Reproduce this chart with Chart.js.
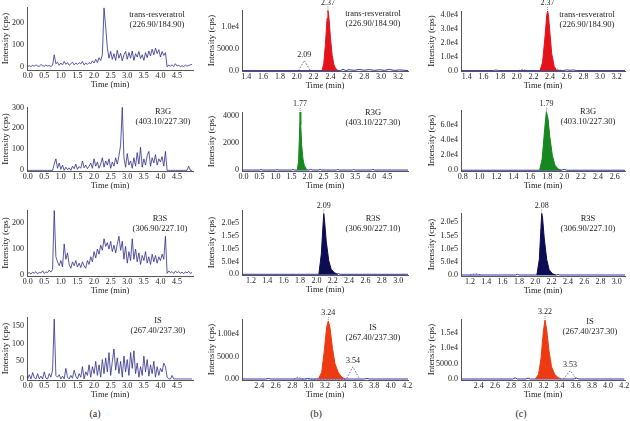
<!DOCTYPE html>
<html>
<head>
<meta charset="utf-8">
<script src="https://cdn.jsdelivr.net/npm/chart.js@4/dist/chart.umd.min.js"></script>
<style>
  body { margin: 0; width: 630px; height: 421px; overflow: hidden; background: #fff; position: relative;
         font-family: "Liberation Serif", "Times New Roman", serif; color: #222; }
  canvas { position: absolute; }
  .cmp { position: absolute; font-size: 8.5px; line-height: 10px; text-align: center; transform: translateX(-50%); white-space: nowrap; }
  .tag { position: absolute; font-size: 10px; transform: translate(-50%, -50%); }
</style>
</head>
<body>
<script>
// ---- data ----
// column (a): blank samples, time in min
const timeA = [0.00,0.05,0.10,0.15,0.20,0.25,0.30,0.35,0.40,0.45,0.50,0.55,0.60,0.65,0.70,0.75,0.80,0.85,0.90,0.95,
  1.00,1.05,1.10,1.15,1.20,1.25,1.30,1.35,1.40,1.45,1.50,1.55,1.60,1.65,1.70,1.75,1.80,1.85,1.90,1.95,
  2.00,2.05,2.10,2.15,2.20,2.25,2.30,2.35,2.40,2.45,2.50,2.55,2.60,2.65,2.70,2.75,2.80,2.85,2.90,2.95,
  3.00,3.05,3.10,3.15,3.20,3.25,3.30,3.35,3.40,3.45,3.50,3.55,3.60,3.65,3.70,3.75,3.80,3.85,3.90,3.95,
  4.00,4.05,4.10,4.15,4.20,4.25,4.30,4.35,4.40,4.45,4.50,4.55,4.60,4.65,4.70,4.75,4.80,4.85,4.90,4.95];

const blankTrans = [3,6,2,8,4,10,5,3,12,6,4,9,5,7,3,8,55,15,22,8,
  18,10,25,12,20,8,15,22,10,18,12,20,14,25,10,18,12,20,15,28,
  18,35,20,42,30,55,265,180,85,40,70,35,60,30,75,40,62,28,55,70,
  35,65,40,72,30,60,45,70,38,55,30,65,42,72,50,80,55,85,60,78,
  45,70,52,65,2,8,4,10,3,15,5,8,3,6,2,9,4,7,10,12];

const blankR3G = [0,0,0,0,0,0,0,0,0,0,0,0,0,0,0,0,30,55,10,35,
  5,25,0,15,3,12,0,20,8,30,5,18,10,45,12,25,8,20,35,10,
  55,20,40,10,30,60,15,45,25,55,10,40,20,60,30,70,120,300,60,15,
  80,25,45,10,60,20,85,30,110,15,55,25,70,90,20,60,35,75,25,55,
  40,65,20,90,0,0,0,0,0,0,0,0,0,0,0,0,0,20,0,0];

const blankR3S = [5,8,3,10,6,12,4,9,7,15,5,11,8,18,10,20,250,70,50,35,
  55,30,120,60,85,40,25,50,35,55,30,45,28,50,35,25,55,40,70,50,
  90,65,100,80,115,95,140,110,125,100,130,90,115,85,120,150,95,130,60,110,
  45,90,55,140,60,100,50,85,40,75,55,90,45,70,40,80,50,75,45,70,
  55,80,60,150,5,15,8,12,5,14,8,12,6,10,4,11,7,13,5,9];

const blankIS = [0,12,0,18,3,0,15,0,8,0,20,2,0,15,5,25,170,10,5,12,
  0,8,0,30,5,0,10,2,25,8,0,15,5,35,0,20,10,40,5,35,
  15,50,10,40,5,55,15,60,20,75,10,50,85,25,60,15,50,5,65,20,
  55,10,75,30,80,15,45,5,35,10,65,20,55,8,40,15,50,5,35,10,
  30,20,45,35,5,0,0,10,0,0,0,0,0,0,0,0,0,0,0,0];

// column (b): sample peaks
const b1PeakT = [2.30,2.32,2.34,2.36,2.37,2.38,2.40,2.42,2.44,2.46,2.49];
const b1PeakV = [0,1500,6000,12000,13800,12500,7500,3500,1400,500,0];
const b1DashT = [2.02,2.09,2.16];
const b1DashV = [0,2300,0];
const b1BaseT = [1.35,2.52,2.55,2.58,2.62,2.68,2.74,2.80,2.86,2.92,2.98,3.04,3.10,3.16,3.22,3.32];
const b1BaseV = [0,0,300,0,200,50,250,80,220,40,180,60,250,30,150,0];

const b2PeakT = [1.68,1.72,1.75,1.77,1.79,1.82,1.86,1.90,1.95,2.00];
const b2PeakV = [0,600,2500,4250,3300,1800,800,350,120,0];
const b2BaseT = [-0.05,0.5,0.55,0.6,1.0,1.05,1.1,1.5,1.55,1.6,2.05,2.1,2.15,2.35,2.4,2.45,2.9,2.95,3.0,3.4,3.45,3.5,4.0,4.05,4.1,5.15];
const b2BaseV = [0,0,40,0,0,30,0,0,40,0,0,60,0,0,50,0,0,40,0,0,40,0,0,50,0,0];

const b3PeakT = [2.03,2.06,2.08,2.09,2.10,2.12,2.15,2.18,2.22,2.26];
const b3PeakV = [0,80000,190000,238000,210000,130000,55000,20000,6000,0];
const b3BaseT = [1.09,2.25,2.27,2.29,3.12];
const b3BaseV = [0,0,3000,0,0];

const b4PeakT = [3.12,3.16,3.19,3.22,3.24,3.26,3.29,3.32,3.36,3.40,3.44];
const b4PeakV = [0,1500,6000,11500,12900,11500,7000,3500,1500,500,0];
const b4DashT = [2.82,2.87,2.92,3.46,3.54,3.62];
const b4DashV = [0,400,0,0,2700,0];
const b4BaseT = [2.19,2.48,2.51,2.54,2.96,2.99,3.02,3.68,3.71,3.74,4.21];
const b4BaseV = [0,0,150,0,0,120,0,0,150,0,0];

// column (c): high concentration peaks
const c1PeakT = [2.28,2.31,2.34,2.36,2.37,2.38,2.40,2.42,2.45,2.48];
const c1PeakV = [0,6000,25000,40000,43000,40000,26000,12000,3000,0];
const c1DashT = [2.02,2.07,2.12,2.44,2.49,2.54];
const c1DashV = [0,900,0,0,900,0];
const c1BaseT = [1.33,1.72,1.75,1.78,2.55,2.60,2.64,2.68,2.72,3.30];
const c1BaseV = [0,0,400,0,0,500,200,450,0,0];

const c2PeakT = [1.71,1.74,1.77,1.79,1.81,1.83,1.86,1.89,1.93,1.97];
const c2PeakV = [0,15000,55000,78000,68000,45000,20000,7000,1500,0];
const c2BaseT = [0.78,1.97,2.00,2.03,2.72];
const c2BaseV = [0,0,1200,0,0];

const c3PeakT = [2.02,2.05,2.07,2.08,2.09,2.11,2.14,2.17,2.21,2.25];
const c3PeakV = [0,60000,180000,233000,215000,140000,60000,20000,5000,0];
const c3DashT = [1.20,1.27,1.34];
const c3DashV = [0,5500,0];
const c3BaseT = [1.09,1.76,1.78,1.80,2.26,2.28,2.30,3.10];
const c3BaseV = [0,0,3000,0,0,2500,0,0];

const c4PeakT = [3.10,3.14,3.17,3.20,3.22,3.24,3.27,3.30,3.34,3.38,3.42];
const c4PeakV = [0,1500,6500,15500,19000,16000,9000,4000,1500,500,0];
const c4DashT = [3.45,3.53,3.61];
const c4DashV = [0,2700,0];
const c4BaseT = [2.18,2.82,2.85,2.88,2.98,3.01,3.04,3.58,3.61,3.64,4.20];
const c4BaseV = [0,0,350,0,0,250,0,0,300,0,0];

// peak retention-time labels
const b1Tags = [{t: 2.37, v: 13800, text: '2.37', main: true}, {t: 2.09, v: 2300, text: '2.09'}];
const b2Tags = [{t: 1.77, v: 4250, text: '1.77', main: true}];
const b3Tags = [{t: 2.09, v: 238000, text: '2.09', main: true}];
const b4Tags = [{t: 3.24, v: 12900, text: '3.24', main: true}, {t: 3.54, v: 2700, text: '3.54'}];
const c1Tags = [{t: 2.37, v: 43000, text: '2.37', main: true}];
const c2Tags = [{t: 1.79, v: 78000, text: '1.79', main: true}];
const c3Tags = [{t: 2.08, v: 233000, text: '2.08', main: true}];
const c4Tags = [{t: 3.22, v: 19000, text: '3.22', main: true}, {t: 3.53, v: 2700, text: '3.53'}];

// tick values and labels
const xTickA = [0, 0.5, 1, 1.5, 2, 2.5, 3, 3.5, 4, 4.5];
const xTickR = [1.4, 1.6, 1.8, 2.0, 2.2, 2.4, 2.6, 2.8, 3.0, 3.2];
const xTickS = [1.2, 1.4, 1.6, 1.8, 2.0, 2.2, 2.4, 2.6, 2.8, 3.0];
const xTickG = [0.8, 1.0, 1.2, 1.4, 1.6, 1.8, 2.0, 2.2, 2.4, 2.6];
const xTickI = [2.4, 2.6, 2.8, 3.0, 3.2, 3.4, 3.6, 3.8, 4.0, 4.2];

const yTickA1 = [0, 100, 200];           const yLabA1 = ['0', '100', '200'];
const yTickA2 = [0, 100, 200, 300];      const yLabA2 = ['0', '100', '200', '300'];
const yTickA3 = [0, 100, 200];           const yLabA3 = ['0', '100', '200'];
const yTickA4 = [0, 50, 100, 150];       const yLabA4 = ['0', '50', '100', '150'];
const yTickB1 = [0, 5000, 10000];        const yLabB1 = ['0.0', '5000.0', '1.0e4'];
const yTickB2 = [0, 2000, 4000];         const yLabB2 = ['0', '2000', '4000'];
const yTickB3 = [0, 50000, 100000, 150000, 200000]; const yLabB3 = ['0.0', '5.0e4', '1.0e5', '1.5e5', '2.0e5'];
const yTickB4 = [0, 5000, 10000];        const yLabB4 = ['0.00', '5000.0', '1.00e4'];
const yTickC1 = [0, 10000, 20000, 30000, 40000]; const yLabC1 = ['0.0', '1.0e4', '2.0e4', '3.0e4', '4.0e4'];
const yTickC2 = [0, 20000, 40000, 60000];        const yLabC2 = ['0.0', '2.0e4', '4.0e4', '6.0e4'];
const yTickC3 = [0, 50000, 100000, 150000, 200000]; const yLabC3 = ['0.0', '5.0e4', '1.0e5', '1.5e5', '2.0e5'];
const yTickC4 = [0, 5000, 10000, 15000]; const yLabC4 = ['0.0', '5000.0', '1.0e4', '1.5e4'];

// ---- styling ----
const FONT = '"Liberation Serif", "Times New Roman", serif';
const TXT = '#222';
const NOISE = '#2d2d8a';
const NAVY = '#0c0c52';
const RED = '#e3121b';
const ORANGE = '#ee3a12';
const GREEN = '#17871f';
const BASE = '#3434a0';
const DASH = '#4545b5';

const pts = (t, v) => t.map((x, i) => ({ x, y: v[i] }));
const trace = (t, v, color, width) => ({ data: pts(t, v), borderColor: color, borderWidth: width, pointRadius: 0, fill: false, tension: 0 });
const dashed = (t, v) => ({ data: pts(t, v), borderColor: DASH, borderWidth: 0.8, borderDash: [1.5, 1.5], pointRadius: 0, fill: false, tension: 0 });
const peak = (t, v, color) => ({ data: pts(t, v), borderColor: color, backgroundColor: color, borderWidth: 1, pointRadius: 0, fill: 'origin', tension: 0 });

const peakTags = {
  id: 'peakTags',
  afterDatasetsDraw(chart, args, opts) {
    const { ctx } = chart;
    const x = chart.scales.x, y = chart.scales.y;
    (opts.tags || []).forEach(tag => {
      const px = x.getPixelForValue(tag.t), py = y.getPixelForValue(tag.v);
      const gap = tag.main ? 4 : 2;
      ctx.save();
      ctx.font = '8px ' + FONT;
      ctx.fillStyle = TXT;
      ctx.textAlign = 'center';
      ctx.textBaseline = 'bottom';
      ctx.fillText(tag.text, px, py - gap);
      if (tag.main) {
        ctx.setLineDash([1, 1]);
        ctx.strokeStyle = '#777';
        ctx.lineWidth = 0.8;
        ctx.beginPath();
        ctx.moveTo(px, py - gap);
        ctx.lineTo(px, py);
        ctx.stroke();
      }
      ctx.restore();
    });
  }
};

const COL_L = [0, 206, 426];
const AREA_L = [27, 242, 461];
const AREA_R = [193, 408, 625];

const panels = [
  // column a
  { c: 0, top: 7, bottom: 70, xMin: -0.02, xMax: 4.98, xTicks: xTickA, yMin: -13, yMax: 269, yTicks: yTickA1, yLabels: yLabA1,
    datasets: [trace(timeA, blankTrans, NOISE, 0.8)] },
  { c: 0, top: 107, bottom: 171, xMin: -0.02, xMax: 4.98, xTicks: xTickA, yMin: -3, yMax: 302, yTicks: yTickA2, yLabels: yLabA2,
    datasets: [trace(timeA, blankR3G, NOISE, 0.8)] },
  { c: 0, top: 210, bottom: 276, xMin: -0.02, xMax: 4.98, xTicks: xTickA, yMin: -5, yMax: 252, yTicks: yTickA3, yLabels: yLabA3,
    datasets: [trace(timeA, blankR3S, NOISE, 0.8)] },
  { c: 0, top: 317, bottom: 380, xMin: -0.02, xMax: 4.98, xTicks: xTickA, yMin: -3, yMax: 176, yTicks: yTickA4, yLabels: yLabA4,
    datasets: [trace(timeA, blankIS, NOISE, 0.8)] },
  // column b
  { c: 1, top: 10, bottom: 71, xMin: 1.35, xMax: 3.32, xTicks: xTickR, yMin: -100, yMax: 13900, yTicks: yTickB1, yLabels: yLabB1, tags: b1Tags,
    datasets: [peak(b1PeakT, b1PeakV, RED), dashed(b1DashT, b1DashV), trace(b1BaseT, b1BaseV, BASE, 1)] },
  { c: 1, top: 112, bottom: 171, xMin: -0.05, xMax: 5.15, xTicks: xTickA, yMin: -70, yMax: 4250, yTicks: yTickB2, yLabels: yLabB2, tags: b2Tags,
    datasets: [peak(b2PeakT, b2PeakV, GREEN), trace(b2BaseT, b2BaseV, BASE, 1)] },
  { c: 1, top: 210, bottom: 275, xMin: 1.09, xMax: 3.12, xTicks: xTickS, yMin: -2700, yMax: 252000, yTicks: yTickB3, yLabels: yLabB3, tags: b3Tags,
    datasets: [peak(b3PeakT, b3PeakV, NAVY), trace(b3BaseT, b3BaseV, BASE, 1)] },
  { c: 1, top: 319, bottom: 380, xMin: 2.19, xMax: 4.21, xTicks: xTickI, yMin: -220, yMax: 13330, yTicks: yTickB4, yLabels: yLabB4, tags: b4Tags,
    datasets: [peak(b4PeakT, b4PeakV, ORANGE), dashed(b4DashT, b4DashV), trace(b4BaseT, b4BaseV, BASE, 1)] },
  // column c
  { c: 2, top: 11, bottom: 71, xMin: 1.33, xMax: 3.30, xTicks: xTickR, yMin: -300, yMax: 42950, yTicks: yTickC1, yLabels: yLabC1, tags: c1Tags,
    datasets: [peak(c1PeakT, c1PeakV, RED), dashed(c1DashT, c1DashV), trace(c1BaseT, c1BaseV, BASE, 1)] },
  { c: 2, top: 110, bottom: 171, xMin: 0.78, xMax: 2.72, xTicks: xTickG, yMin: -1000, yMax: 80000, yTicks: yTickC2, yLabels: yLabC2, tags: c2Tags,
    datasets: [peak(c2PeakT, c2PeakV, GREEN), trace(c2BaseT, c2BaseV, BASE, 1)] },
  { c: 2, top: 213, bottom: 276, xMin: 1.09, xMax: 3.10, xTicks: xTickS, yMin: -3800, yMax: 235000, yTicks: yTickC3, yLabels: yLabC3, tags: c3Tags,
    datasets: [peak(c3PeakT, c3PeakV, NAVY), dashed(c3DashT, c3DashV), trace(c3BaseT, c3BaseV, BASE, 1)] },
  { c: 2, top: 319, bottom: 380, xMin: 2.18, xMax: 4.21, xTicks: xTickI, yMin: -320, yMax: 19350, yTicks: yTickC4, yLabels: yLabC4, tags: c4Tags,
    datasets: [peak(c4PeakT, c4PeakV, ORANGE), dashed(c4DashT, c4DashV), trace(c4BaseT, c4BaseV, BASE, 1)] },
];

const PAD_T = 12, PAD_R = 12, X_H = 20;

panels.forEach(p => {
  const cl = COL_L[p.c];
  const yW = AREA_L[p.c] - cl;
  const top = p.top - PAD_T;
  const w = AREA_R[p.c] + PAD_R - cl;
  const h = p.bottom + X_H - top;
  const cv = document.createElement('canvas');
  cv.width = w; cv.height = h;
  cv.style.left = cl + 'px'; cv.style.top = top + 'px';
  cv.style.width = w + 'px'; cv.style.height = h + 'px';
  document.body.appendChild(cv);

  new Chart(cv, {
    type: 'line',
    data: { datasets: p.datasets },
    options: {
      responsive: false,
      animation: false,
      devicePixelRatio: 1,
      layout: { padding: { top: PAD_T, right: PAD_R, left: 0, bottom: 0 } },
      plugins: { legend: { display: false }, tooltip: { enabled: false }, peakTags: { tags: p.tags || [] } },
      scales: {
        x: {
          type: 'linear', min: p.xMin, max: p.xMax,
          afterFit: s => { s.height = X_H; },
          afterBuildTicks: s => { s.ticks = p.xTicks.map(v => ({ value: v })); },
          grid: { display: false, drawTicks: false },
          border: { display: true, color: '#555', width: 1 },
          ticks: { autoSkip: false, maxRotation: 0, padding: 1, color: TXT, font: { family: FONT, size: 8 },
                   callback: v => Number(v).toFixed(1) },
          title: { display: true, text: 'Time (min)', color: TXT, font: { family: FONT, size: 8.5 }, padding: 0 }
        },
        y: {
          type: 'linear', min: p.yMin, max: p.yMax,
          afterFit: s => { s.width = yW; },
          afterBuildTicks: s => { s.ticks = p.yTicks.map(v => ({ value: v })); },
          grid: { display: false, drawTicks: false },
          border: { display: true, color: '#555', width: 1 },
          ticks: { autoSkip: false, padding: 3, color: TXT, font: { family: FONT, size: 8 },
                   callback: (v, i) => p.yLabels[i] },
          title: { display: true, text: 'Intensity (cps)', color: TXT, font: { family: FONT, size: 9 }, padding: 0 }
        }
      }
    },
    plugins: [peakTags]
  });
});

// compound labels (analyte and MRM transition)
const compounds = [
  ['trans-resveratrol', '(226.90/184.90)', [157, 373, 587], [9, 8, 9]],
  ['R3G', '(403.10/227.30)', [163, 373, 588], [106, 107, 106]],
  ['R3S', '(306.90/227.10)', [160, 373, 588], [213, 213, 213]],
  ['IS', '(267.40/237.30)', [158, 373, 590], [315, 322, 316]],
];
compounds.forEach(([name, mrm, xs, ys]) => {
  xs.forEach((x, i) => {
    const d = document.createElement('div');
    d.className = 'cmp';
    d.style.left = x + 'px';
    d.style.top = ys[i] + 'px';
    d.innerHTML = name + '<br>' + mrm;
    document.body.appendChild(d);
  });
});

[['(a)', 95], ['(b)', 316], ['(c)', 521]].forEach(([t, x]) => {
  const d = document.createElement('div');
  d.className = 'tag';
  d.style.left = x + 'px';
  d.style.top = '413px';
  d.textContent = t;
  document.body.appendChild(d);
});
</script>
</body>
</html>
